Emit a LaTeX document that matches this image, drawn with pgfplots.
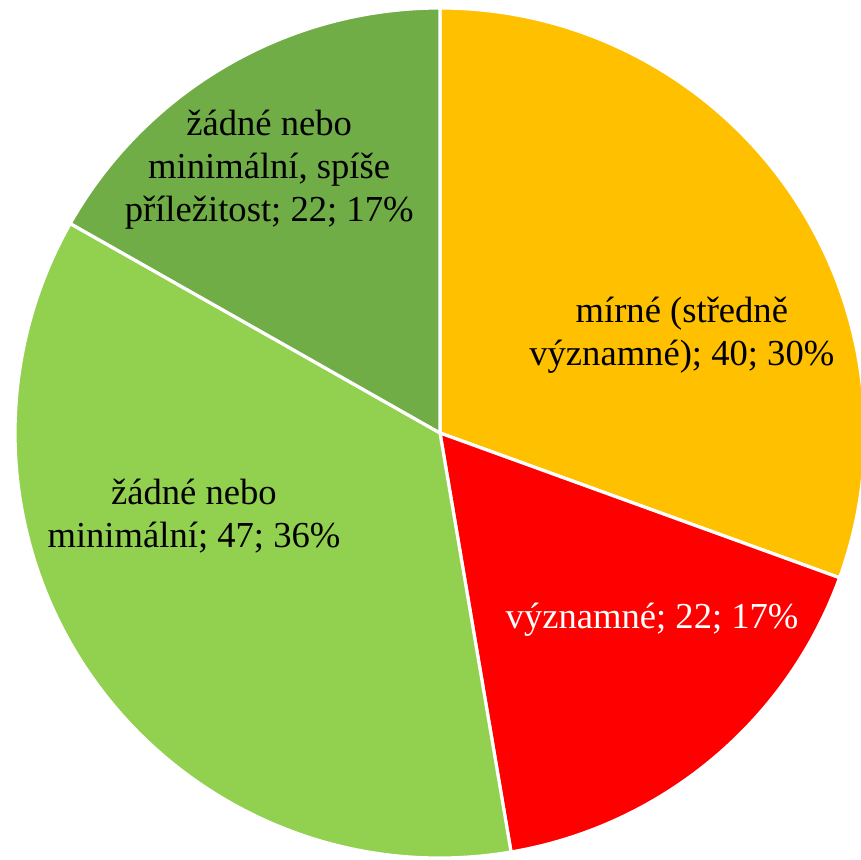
\documentclass[border=0pt]{standalone}
\usepackage{pgfplots}
\usepackage{pgfplotstable}
\pgfplotsset{compat=1.18}
\usepackage{fontspec}
\setmainfont{Liberation Serif}
\definecolor{cOrange}{HTML}{FFC000}
\definecolor{cRed}{HTML}{FF0000}
\definecolor{cLight}{HTML}{92D050}
\definecolor{cDark}{HTML}{70AD47}
\pgfplotstableread{
label value
mirne 40
vyznamne 22
minimalni 47
prilezitost 22
}\piedata
\begin{document}
\begin{tikzpicture}
\pgfplotstablegetelem{0}{value}\of\piedata \let\vA\pgfplotsretval
\pgfplotstablegetelem{1}{value}\of\piedata \let\vB\pgfplotsretval
\pgfplotstablegetelem{2}{value}\of\piedata \let\vC\pgfplotsretval
\pgfplotstablegetelem{3}{value}\of\piedata \let\vD\pgfplotsretval
\pgfmathsetmacro\total{\vA+\vB+\vC+\vD}
\pgfmathsetmacro\aA{90}
\pgfmathsetmacro\aB{\aA-360*(\vA/\total)}
\pgfmathsetmacro\aC{\aB-360*(\vB/\total)}
\pgfmathsetmacro\aD{\aC-360*(\vC/\total)}
\pgfmathsetmacro\aE{\aD-360*(\vD/\total)}
\begin{axis}[
  x=212.5pt, y=212.5pt,
  xmin=-1.0353, xmax=0.9906,
  ymin=-1.0047, ymax=1.0188,
  hide axis, clip=true,
  axis line style={draw=none},
]
\addplot[draw=none, forget plot] coordinates {(0,0)};
\begin{scope}[draw=white, line width=1.6pt, line join=round]
\filldraw[fill=cOrange] (axis cs:0,0) -- ++(\aA:212.5pt) arc[start angle=\aA, end angle=\aB, radius=212.5pt] -- cycle;
\filldraw[fill=cRed] (axis cs:0,0) -- ++(\aB:212.5pt) arc[start angle=\aB, end angle=\aC, radius=212.5pt] -- cycle;
\filldraw[fill=cLight] (axis cs:0,0) -- ++(\aC:212.5pt) arc[start angle=\aC, end angle=\aD, radius=212.5pt] -- cycle;
\filldraw[fill=cDark] (axis cs:0,0) -- ++(\aD:212.5pt) arc[start angle=\aD, end angle=\aE, radius=212.5pt] -- cycle;
\end{scope}
\begin{scope}[every node/.style={align=center, font=\fontsize{18.3}{21.5}\selectfont, inner sep=0pt}]
\node at (axis cs:0.569,0.229) {mírné (středně\\významné); 40; 30\%};
\node[text=white] at (axis cs:0.499,-0.44) {významné; 22; 17\%};
\node at (axis cs:-0.579,-0.195) {žádné nebo\\minimální; 47; 36\%};
\node at (axis cs:-0.402,0.619) {žádné nebo\\minimální, spíše\\příležitost; 22; 17\%};
\end{scope}
\end{axis}
\pgfresetboundingbox
\path[use as bounding box] (current axis.south west) rectangle (current axis.north east);
\end{tikzpicture}
\end{document}
